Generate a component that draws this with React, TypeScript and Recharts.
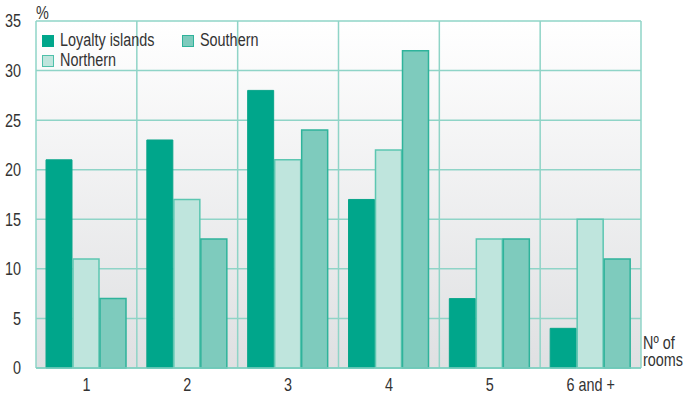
import React from 'react';
import { BarChart, Bar, XAxis, YAxis, CartesianGrid } from 'recharts';

const categories = ['1', '2', '3', '4', '5', '6 and +'];
const loyalty = [21, 23, 28, 17, 7, 4];
const northern = [11, 17, 21, 22, 13, 15];
const southern = [7, 13, 24, 32, 13, 11];
const yTicks = [0, 5, 10, 15, 20, 25, 30, 35];

const data = categories.map((c, i) => ({
  name: c,
  loyalty: loyalty[i],
  northern: northern[i],
  southern: southern[i],
}));

const FONT = '"Liberation Sans", Arial, sans-serif';
const FS = 18;
const SX = 0.8;
const TEXT = '#333';

const C_LOY = '#00a68b';
const C_NOR = '#bfe5dd';
const C_SOU = '#7ecbbd';

const YTick = (props: any) => {
  const { x, y, payload } = props;
  return (
    <g transform={`translate(${x},${y}) scale(${SX},1)`}>
      <text x={0} y={0} dy="0.36em" textAnchor="end" fontFamily={FONT} fontSize={FS} fill={TEXT}>
        {payload.value}
      </text>
    </g>
  );
};

const XTick = (props: any) => {
  const { x, y, payload } = props;
  return (
    <g transform={`translate(${x},${y}) scale(${SX},1)`}>
      <text x={0} y={0} dy="0.71em" textAnchor="middle" fontFamily={FONT} fontSize={FS} fill={TEXT}>
        {payload.value}
      </text>
    </g>
  );
};

const Txt = ({ left, top, children, lh = 16 }: any) => (
  <div
    style={{
      position: 'absolute',
      left,
      top,
      fontFamily: FONT,
      fontSize: FS,
      color: TEXT,
      lineHeight: `${lh}px`,
      whiteSpace: 'nowrap',
      transform: `scaleX(${SX})`,
      transformOrigin: 'left top',
    }}
  >
    {children}
  </div>
);

const Swatch = ({ left, top, color, stroke }: any) => (
  <div style={{ position: 'absolute', left, top, width: 10, height: 10, background: color, border: `1px solid ${stroke}` }} />
);

export default function App() {
  const left = 36, top = 21, plotW = 605, plotH = 347;
  return (
    <div style={{ position: 'absolute', left: 0, top: 0, width: 684, height: 395, background: '#fff' }}>
      <BarChart
        width={684}
        height={395}
        data={data}
        margin={{ top: top, right: 43, left: 0, bottom: 0 }}
        barCategoryGap={10}
        barGap={1}
      >
        <defs>
          <linearGradient id="bgGrad" x1="0" y1="0" x2="0" y2="1">
            <stop offset="0%" stopColor="#ffffff" />
            <stop offset="100%" stopColor="#dfe0e2" />
          </linearGradient>
        </defs>
        <CartesianGrid
          fill="url(#bgGrad)"
          stroke="#8fd4c7"
          strokeWidth={1.5}
          verticalCoordinatesGenerator={() => [0, 1, 2, 3, 4, 5, 6].map((i) => left + (i * plotW) / 6)}
          horizontalCoordinatesGenerator={() => yTicks.map((t) => top + plotH - (t * plotH) / 35)}
        />
        <XAxis
          dataKey="name"
          height={27}
          tickLine={false}
          axisLine={{ stroke: '#7fcfc0', strokeWidth: 1.5 }}
          tick={<XTick />}
          tickMargin={4}
        />
        <YAxis
          width={36}
          domain={[0, 35]}
          ticks={yTicks}
          interval={0}
          tickLine={false}
          axisLine={false}
          tick={<YTick />}
          tickMargin={9}
        />
        <Bar dataKey="loyalty" fill={C_LOY} stroke="#0aa58a" strokeWidth={1} isAnimationActive={false} />
        <Bar dataKey="northern" fill={C_NOR} stroke="#5cc6b1" strokeWidth={1.5} isAnimationActive={false} />
        <Bar dataKey="southern" fill={C_SOU} stroke="#2fb39b" strokeWidth={1.5} isAnimationActive={false} />
      </BarChart>
      <Txt left={36} top={5}>%</Txt>
      <Swatch left={42} top={35} color={C_LOY} stroke={C_LOY} />
      <Txt left={60} top={32}>Loyalty islands</Txt>
      <Swatch left={182} top={35} color={C_SOU} stroke="#2fb39b" />
      <Txt left={200} top={32}>Southern</Txt>
      <Swatch left={42} top={55} color={C_NOR} stroke="#4fc0aa" />
      <Txt left={60} top={52}>Northern</Txt>
      <Txt left={643} top={335} lh={16}>Nº of</Txt>
      <Txt left={643} top={352} lh={16}>rooms</Txt>
    </div>
  );
}
